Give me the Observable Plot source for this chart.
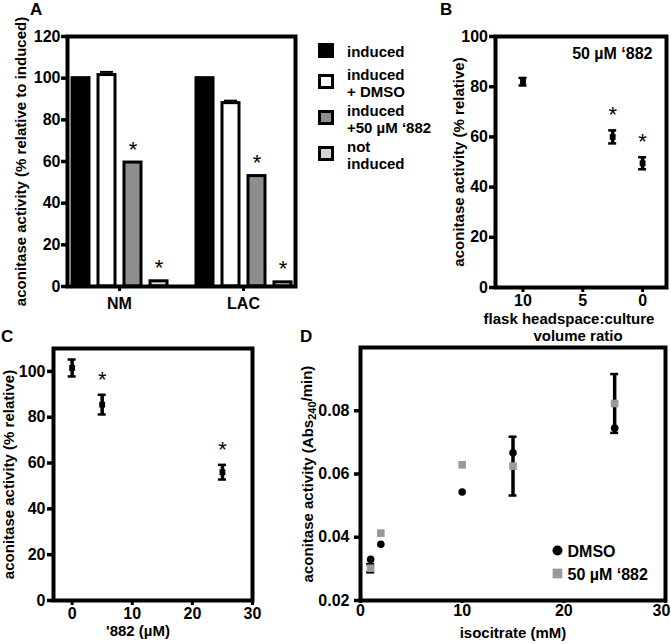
<!DOCTYPE html>
<html><head><meta charset="utf-8">
<script src="https://cdn.jsdelivr.net/npm/d3@7"></script>
<script src="https://cdn.jsdelivr.net/npm/@observablehq/plot@0.6"></script>
<style>
body{margin:0;background:#fff;}
#fig{position:relative;width:671px;height:644px;overflow:hidden;font-family:'Liberation Sans',Arial,Helvetica,sans-serif;font-weight:bold;color:#000;background:#fff;}
.panel{position:absolute;}
.letter{position:absolute;font-size:17px;line-height:17px;}
#legendA{position:absolute;left:318px;top:43px;font-size:15px;line-height:17px;display:flex;flex-direction:column;gap:2px;}
#legendA .item{display:flex;align-items:center;}
#legendA .item:first-child{margin-bottom:4px;}
#legendA .sw{width:16px;height:15px;box-sizing:border-box;border:3px solid #000;margin-right:13px;margin-top:-3px;flex:none;}
</style></head>
<body><div id="fig"></div>
<script>
// ---------- DATA ----------
// Panel A
const groupsA = ["NM", "LAC"];
const treatmentsA = ["induced", "induced + DMSO", "induced +50 µM ‘882", "not induced"];
const legendLinesA = [["induced"], ["induced", "+ DMSO"], ["induced", "+50 µM ‘882"], ["not", "induced"]];
const valuesNM = [100, 101.5, 59.5, 2.5];
const valuesLAC = [100, 88, 53, 2];
const errNM = [0, 1.5, 0, 0];
const errLAC = [0, 1.2, 0, 0];
const starsNM = [false, false, true, true];
const starsLAC = [false, false, true, true];
const ticksA = [0, 20, 40, 60, 80, 100, 120];
const labelAy = "aconitase activity (% relative to induced)";

// Panel B
const ratioB = [10, 2.5, 0];
const activityB = [82, 60, 49.5];
const errB = [1.5, 2.6, 2.4];
const starsB = [false, true, true];
const ticksBy = [0, 20, 40, 60, 80, 100];
const ticksBx = [10, 5, 0];
const noteB = "50 µM ‘882";
const labelBy = "aconitase activity (% relative)";
const labelBxLines = ["flask headspace:culture", "volume ratio"];

// Panel C
const doseC = [0, 5, 25];
const activityC = [101.5, 85.5, 56];
const errC = [3.7, 4.3, 3.2];
const starsC = [false, true, true];
const ticksCy = [0, 20, 40, 60, 80, 100];
const ticksCx = [0, 10, 20, 30];
const labelCy = "aconitase activity (% relative)";
const labelCx = "'882 (µM)";

// Panel D
const isocitrateD = [1, 2, 10, 15, 25];
const dmsoD = [0.033, 0.0378, 0.0543, 0.0667, 0.0745];
const drugD = [0.0302, 0.0413, 0.0629, 0.0625, 0.0823];
const drugErrD = [0.0013, 0, 0, 0.0093, 0.0093];
const ticksDy = [0.02, 0.04, 0.06, 0.08];
const ticksDx = [0, 10, 20, 30];
const seriesD = ["DMSO", "50 µM ‘882"];
const labelDy = "aconitase activity (Abs240/min)";
const labelDx = "isocitrate (mM)";

// ---------- STYLE ----------
const FONT = "'Liberation Sans', Arial, Helvetica, sans-serif";
const fillsA = ["#000000", "#ffffff", "#8e8e8e", "#d6d6d6"];
const GREY = "#9a9a9a";
const baseStyle = {fontFamily: FONT, fontSize: "16px", fontWeight: "bold", color: "#000", background: "transparent", overflow: "visible"};
const fig = document.getElementById("fig");
function place(el, left, top) {
  const d = document.createElement("div");
  d.className = "panel"; d.style.left = left + "px"; d.style.top = top + "px";
  d.appendChild(el); fig.appendChild(d);
}
function letter(t, left, top) {
  const d = document.createElement("div");
  d.className = "letter"; d.textContent = t; d.style.left = left + "px"; d.style.top = top + "px";
  fig.appendChild(d);
}
function errorMarks(data, x, y, e, cap) {
  const lo = d => d[y] - d[e], hi = d => d[y] + d[e];
  return [
    Plot.ruleX(data, {x, y1: lo, y2: hi, stroke: "#000", strokeWidth: 3.5}),
    Plot.ruleY(data, {x1: x, x2: x, y: lo, insetLeft: -cap, insetRight: -cap, stroke: "#000", strokeWidth: 2.5}),
    Plot.ruleY(data, {x1: x, x2: x, y: hi, insetLeft: -cap, insetRight: -cap, stroke: "#000", strokeWidth: 2.5})
  ];
}
const star = (data, x, yfn, dy) => Plot.text(data, {x, y: yfn, text: () => "*", dy, fontSize: 22, fontWeight: "normal"});

// ---------- PANEL A ----------
const tableA = groupsA.flatMap((g, gi) => treatmentsA.map((t, ti) => ({
  group: g, treatment: t,
  value: [valuesNM, valuesLAC][gi][ti],
  err: [errNM, errLAC][gi][ti],
  star: [starsNM, starsLAC][gi][ti]
})));
const plotA = Plot.plot({
  width: 310, height: 330,
  marginLeft: 58, marginRight: 5, marginTop: 36, marginBottom: 44,
  style: baseStyle,
  fx: {domain: groupsA, paddingInner: 0.16, paddingOuter: 0.07, label: null},
  x: {domain: treatmentsA, paddingInner: 0.36, paddingOuter: 0.14, axis: null},
  y: {domain: [0, 120]},
  color: {domain: treatmentsA, range: fillsA},
  marks: [
    Plot.barY(tableA, {fx: "group", x: "treatment", y: "value", fill: "treatment", stroke: "#000", strokeWidth: 3}),
    Plot.tickY(tableA.filter(d => d.err > 0), {fx: "group", x: "treatment", y: d => d.value + d.err, stroke: "#000", strokeWidth: 2, insetLeft: 2, insetRight: 2}),
    Plot.text(tableA.filter(d => d.star), {fx: "group", x: "treatment", y: d => d.value + d.err, text: () => "*", dy: -13, fontSize: 22, fontWeight: "normal"}),
    Plot.frame({stroke: "#000", strokeWidth: 4, facet: "super"}),
    Plot.axisY({ticks: ticksA, tickSize: 6, tickPadding: 1, strokeWidth: 3.5, label: null, fontSize: 16}),
    Plot.axisFx({anchor: "bottom", tickSize: 5, tickPadding: 6, strokeWidth: 3, label: null, fontSize: 16}),
    Plot.text([labelAy], {frameAnchor: "left", rotate: -90, lineAnchor: "top", textAnchor: "middle", dx: -52, fontSize: 15, facet: "super"})
  ]
});
place(plotA, 0, 0);

// legend A
const legA = document.createElement("div");
legA.id = "legendA";
legendLinesA.forEach((lines, i) => {
  const item = document.createElement("div"); item.className = "item";
  const sw = document.createElement("div"); sw.className = "sw"; sw.style.background = fillsA[i];
  const tx = document.createElement("div"); tx.innerHTML = lines.join("<br>");
  item.appendChild(sw); item.appendChild(tx); legA.appendChild(item);
});
fig.appendChild(legA);

// ---------- PANEL B ----------
const tableB = ratioB.map((r, i) => ({ratio: r, activity: activityB[i], err: errB[i], star: starsB[i]}));
const plotB = Plot.plot({
  width: 231, height: 345,
  marginLeft: 55, marginRight: 5, marginTop: 36, marginBottom: 58,
  style: baseStyle,
  x: {domain: [12.3, -2]},
  y: {domain: [0, 100]},
  marks: [
    ...errorMarks(tableB, "ratio", "activity", "err", 4),
    Plot.dot(tableB, {x: "ratio", y: "activity", symbol: "square", r: 3.3, fill: "#000"}),
    star(tableB.filter(d => d.star), "ratio", d => d.activity + d.err, -15),
    Plot.text([noteB], {frameAnchor: "top-right", textAnchor: "end", lineAnchor: "top", dx: -14, dy: 11, fontSize: 16}),
    Plot.frame({stroke: "#000", strokeWidth: 4}),
    Plot.axisY({ticks: ticksBy, tickSize: 6, tickPadding: 1.5, strokeWidth: 3.5, label: null, fontSize: 16}),
    Plot.axisX({ticks: ticksBx, tickSize: 5, tickPadding: 2, strokeWidth: 3, label: null, fontSize: 16}),
    Plot.text([labelBy], {frameAnchor: "left", rotate: -90, lineAnchor: "top", textAnchor: "middle", dx: -42, fontSize: 15}),
    Plot.text([labelBxLines[0]], {frameAnchor: "bottom", lineAnchor: "bottom", textAnchor: "middle", dy: 36, dx: -12, fontSize: 15}),
    Plot.text([labelBxLines[1]], {frameAnchor: "bottom", lineAnchor: "bottom", textAnchor: "middle", dy: 53, dx: -3, fontSize: 15})
  ]
});
place(plotB, 440, 0);

// ---------- PANEL C ----------
const tableC = doseC.map((x, i) => ({dose: x, activity: activityC[i], err: errC[i], star: starsC[i]}));
const plotC = Plot.plot({
  width: 270, height: 324,
  marginLeft: 53, marginRight: 18, marginTop: 28, marginBottom: 44,
  style: baseStyle,
  x: {domain: [-3.1, 30]},
  y: {domain: [0, 110]},
  marks: [
    ...errorMarks(tableC, "dose", "activity", "err", 4),
    Plot.dot(tableC, {x: "dose", y: "activity", symbol: "square", r: 3.3, fill: "#000"}),
    star(tableC.filter(d => d.star), "dose", d => d.activity + d.err, -15),
    Plot.frame({stroke: "#000", strokeWidth: 4}),
    Plot.axisY({ticks: ticksCy, tickSize: 6, tickPadding: 2, strokeWidth: 3.5, label: null, fontSize: 16}),
    Plot.axisX({ticks: ticksCx, tickSize: 5, tickPadding: 2.5, strokeWidth: 3, label: null, fontSize: 16}),
    Plot.text([labelCy], {frameAnchor: "left", rotate: -90, lineAnchor: "top", textAnchor: "middle", dx: -50, fontSize: 15}),
    Plot.text([labelCx], {frameAnchor: "bottom", lineAnchor: "bottom", textAnchor: "middle", dy: 35, dx: -15, fontSize: 15})
  ]
});
place(plotC, 0, 320);

// ---------- PANEL D ----------
const tableD = isocitrateD.map((x, i) => ({iso: x, dmso: dmsoD[i], drug: drugD[i], err: drugErrD[i]}));
const plotD = Plot.plot({
  width: 381, height: 324,
  marginLeft: 70, marginRight: 6, marginTop: 27, marginBottom: 44,
  style: baseStyle,
  x: {domain: [0, 30]},
  y: {domain: [0.02, 0.1]},
  marks: [
    ...errorMarks(tableD.filter(d => d.err > 0), "iso", "drug", "err", 4),
    Plot.dot(tableD, {x: "iso", y: "dmso", symbol: "circle", r: 3.8, fill: "#000"}),
    Plot.dot(tableD, {x: "iso", y: "drug", symbol: "square", r: 4.3, fill: GREY}),
    Plot.frame({stroke: "#000", strokeWidth: 4}),
    Plot.axisY({ticks: ticksDy, tickFormat: d3.format(".2f"), tickSize: 6, tickPadding: 5, strokeWidth: 3.5, label: null, fontSize: 16}),
    Plot.axisX({ticks: ticksDx, tickSize: 3, strokeWidth: 3, text: null, label: null}),
    Plot.axisX({ticks: ticksDx.slice(0, -1), tickSize: 0, tickPadding: 4, label: null, fontSize: 16}),
    Plot.axisX({ticks: ticksDx.slice(-1), tickSize: 0, tickPadding: 4, dx: -4, label: null, fontSize: 16}),
    Plot.text([labelDy], {frameAnchor: "left", rotate: -90, lineAnchor: "top", textAnchor: "middle", dx: -58, fontSize: 15}),
    Plot.text([labelDx], {frameAnchor: "bottom", lineAnchor: "bottom", textAnchor: "middle", dy: 37, fontSize: 15}),
    Plot.dot([seriesD[0]], {frameAnchor: "bottom-right", dx: -108, dy: -50, r: 5, symbol: "circle", fill: "#000"}),
    Plot.dot([seriesD[1]], {frameAnchor: "bottom-right", dx: -108, dy: -27, r: 5.5, symbol: "square", fill: GREY}),
    Plot.text([seriesD[0]], {frameAnchor: "bottom-right", textAnchor: "start", lineAnchor: "middle", dx: -98, dy: -49, fontSize: 16}),
    Plot.text([seriesD[1]], {frameAnchor: "bottom-right", textAnchor: "start", lineAnchor: "middle", dx: -98, dy: -26, fontSize: 16})
  ]
});
// subscript in D's y label
plotD.querySelectorAll("text").forEach(t => {
  if (t.textContent === labelDy) {
    const NS = "http://www.w3.org/2000/svg";
    t.textContent = "";
    const a = document.createElementNS(NS, "tspan"); a.textContent = "aconitase activity (Abs";
    const b = document.createElementNS(NS, "tspan"); b.textContent = "240"; b.setAttribute("dy", "0.3em"); b.setAttribute("font-size", "11");
    const c = document.createElementNS(NS, "tspan"); c.textContent = "/min)"; c.setAttribute("dy", "-0.3em");
    t.append(a, b, c);
  }
});
place(plotD, 290, 320);

letter("A", 30, 1);
letter("B", 440, 1);
letter("C", 1, 328);
letter("D", 300, 328);
</script></body></html>
